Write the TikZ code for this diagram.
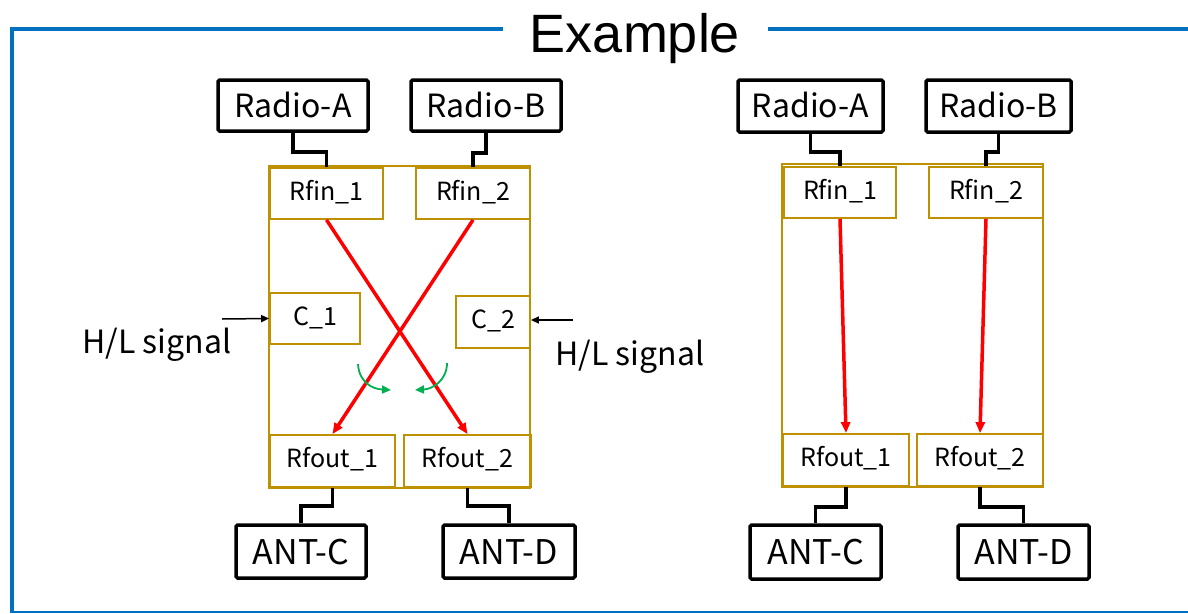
\documentclass[tikz,border=0pt]{standalone}
\usepackage{fontspec}
\setmainfont{Noto Sans CJK JP}
\newfontfamily\arialf{Liberation Sans}
\usetikzlibrary{arrows.meta}
\definecolor{gold}{RGB}{191,144,0}
\definecolor{frameblue}{RGB}{0,112,192}
\definecolor{grn}{RGB}{0,176,80}
\begin{document}
\begin{tikzpicture}[x=1pt,y=-1pt,
  blk/.style={draw=black, line width=3.5pt, rounded corners=1.5pt, inner sep=0pt,
    font=\fontsize{32}{32}\selectfont, text height=23.5pt, text depth=0pt},
  antbox/.style={blk, font=\fontsize{34}{34}\selectfont, text height=25pt},
  gbox/.style={draw=gold, line width=1.8pt, inner sep=0pt,
    font=\fontsize{25}{25}\selectfont, text height=18.3pt, text depth=5pt},
  goldframe/.style={draw=gold, line width=1.8pt},
  wire/.style={draw=black, line width=3.5pt},
  sig/.style={-{Triangle[length=11pt,width=9pt]}, red, line width=3.5pt},
  ctl/.style={-{Triangle[length=8pt,width=7pt]}, black, line width=1.5pt},
  turn/.style={-{Triangle[length=9pt,width=8pt]}, grn, line width=1.8pt},
  lbl/.style={inner sep=0pt, font=\fontsize{32}{32}\selectfont, text height=23.5pt, text depth=0pt},
  frame/.style={draw=frameblue, line width=4pt}
]
\useasboundingbox (0,0) rectangle (1188,613);
% frame
\draw[frame] (503,29) -- (12,29) -- (12,613);
\draw[frame] (768,29) -- (1188,29);
\draw[draw=frameblue, line width=2pt] (12,611.5) -- (1188,611.5);
\node[inner sep=0pt, font=\arialf\fontsize{54}{54}\selectfont, text height=38.7pt, text depth=0pt] (title) at (635,33.5) {Example};

% ---------- left diagram ----------
\draw[goldframe] (269,166) rectangle (530,488);
\node[blk, minimum width=150pt, minimum height=51pt] (raL) at (293,105.5) {Radio-A};
\node[blk, minimum width=150pt, minimum height=51pt] (rbL) at (486,105.5) {Radio-B};
\node[gbox, minimum width=113pt, minimum height=51pt] (rfin1L) at (326.5,193.5) {Rfin\_1};
\node[gbox, minimum width=114pt, minimum height=51pt] (rfin2L) at (473,193.5) {Rfin\_2};
\node[gbox, minimum width=90pt, minimum height=51pt] (c1) at (315,318.5) {C\_1};
\node[gbox, minimum width=74pt, minimum height=52pt] (c2) at (493,322) {C\_2};
\node[gbox, minimum width=125pt, minimum height=52pt] (rfout1L) at (332.5,461) {Rfout\_1};
\node[gbox, minimum width=127pt, minimum height=52pt] (rfout2L) at (467.5,461) {Rfout\_2};
\node[antbox, minimum width=130pt, minimum height=53pt] (antcL) at (301,551.5) {ANT-C};
\node[antbox, minimum width=132pt, minimum height=53pt] (antdL) at (509,551.5) {ANT-D};

\draw[wire] (raL.south) -- ++(0,19) -| (rfin1L.north);
\draw[wire] (rbL.south) -- ++(0,20) -| (rfin2L.north);
\draw[wire] (rfout1L.south) -- ++(0,18) -| (antcL.north);
\draw[wire] (rfout2L.south) -- ++(0,18) -| (antdL.north);

\draw[sig] (rfin1L.south) -- (rfout2L.north);
\draw[sig] (rfin2L.south) -- (rfout1L.north);

\draw[turn] (358,364) .. controls (359,382) and (372,389) .. (391,390);
\draw[turn] (447,363) .. controls (447,380) and (433,389) .. (415,390);

\coordinate (hlL) at (222,319);
\coordinate (hlR) at (573,320);
\draw[ctl] (hlL) -- (c1.west);
\draw[ctl] (hlR) -- (hlR -| c2.east);
\node[lbl] (hltextL) at (157,341.5) {H/L signal};
\node[lbl] (hltextR) at (630,354) {H/L signal};

% ---------- right diagram ----------
\draw[goldframe] (782,164) rectangle (1043,487);
\node[blk, minimum width=145pt, minimum height=52pt] (raR) at (810.5,106) {Radio-A};
\node[blk, minimum width=145pt, minimum height=52pt] (rbR) at (998.5,106) {Radio-B};
\node[gbox, minimum width=112pt, minimum height=51pt] (rfin1R) at (840,192.5) {Rfin\_1};
\node[gbox, minimum width=114pt, minimum height=51pt] (rfin2R) at (986,192.5) {Rfin\_2};
\node[gbox, minimum width=126pt, minimum height=52pt] (rfout1R) at (846,460) {Rfout\_1};
\node[gbox, minimum width=126pt, minimum height=52pt] (rfout2R) at (980,460) {Rfout\_2};
\node[antbox, minimum width=131pt, minimum height=54pt] (antcR) at (815.5,552) {ANT-C};
\node[antbox, minimum width=131pt, minimum height=54pt] (antdR) at (1023.5,552) {ANT-D};

\draw[wire] (raR.south) -- ++(0,18) -| (rfin1R.north);
\draw[wire] (rbR.south) -- ++(0,18) -| (rfin2R.north);
\draw[wire] (rfout1R.south) -- ++(0,20) -| (antcR.north);
\draw[wire] (rfout2R.south) -- ++(0,20) -| (antdR.north);

\draw[sig] (rfin1R.south) -- (rfout1R.north);
\draw[sig] (rfin2R.south) -- (rfout2R.north);
\end{tikzpicture}
\end{document}
